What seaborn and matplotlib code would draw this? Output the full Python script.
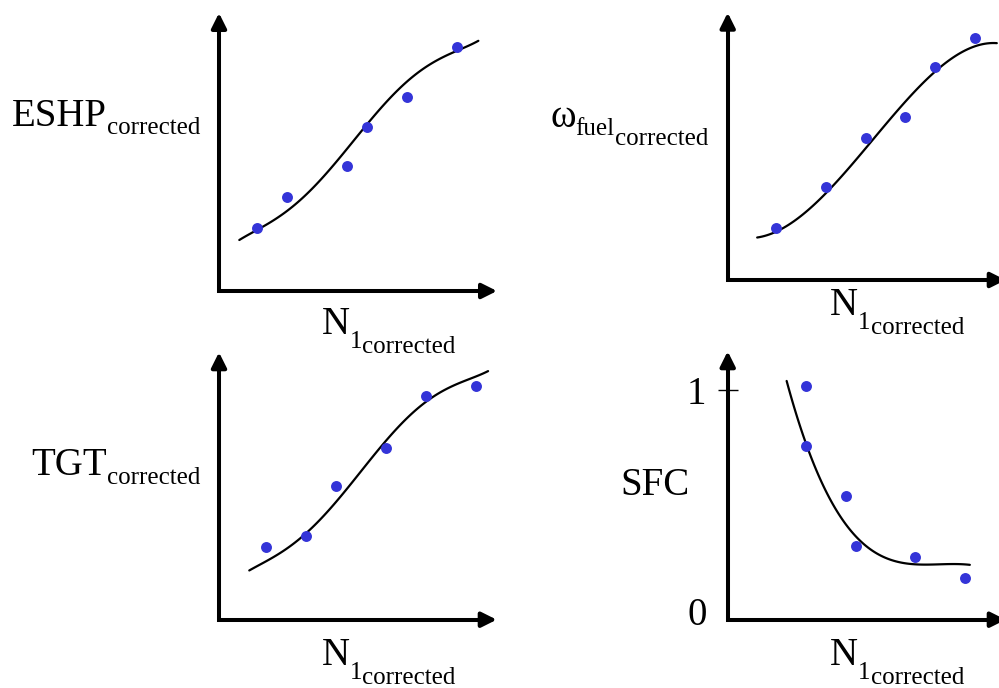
import numpy as np
import pandas as pd
import matplotlib
matplotlib.use("Agg")
import matplotlib.pyplot as plt
import matplotlib.transforms as mtransforms
import seaborn as sns

sns.set_theme(style="white")
plt.rcParams['font.family'] = ['Liberation Serif', 'DejaVu Serif']

# ---------------- data ----------------
# Panel 1: ESHP vs N1
eshp_pts_x = [1.36, 2.44, 4.59, 5.31, 6.75, 8.55]
eshp_pts_y = [2.26, 3.39, 4.50, 5.91, 6.99, 8.79]
eshp_fit_x = [0.73, 1.47, 2.44, 3.15, 3.87, 4.59, 5.31, 6.03, 6.75, 7.71, 8.55, 9.33]
eshp_fit_y = [1.83, 2.26, 2.89, 3.45, 4.23, 5.13, 5.97, 6.81, 7.53, 8.19, 8.67, 8.99]

# Panel 2: fuel flow vs N1
fuel_pts_x = [1.74, 3.54, 4.97, 6.39, 7.47, 8.91]
fuel_pts_y = [1.93, 3.49, 5.30, 6.11, 7.98, 9.04]
fuel_fit_x = [1.06, 1.76, 2.60, 3.56, 4.28, 5.00, 5.72, 6.44, 7.40, 8.60, 9.68]
fuel_fit_y = [1.50, 1.93, 2.50, 3.18, 3.86, 4.99, 5.99, 6.86, 7.73, 8.48, 8.92]

# Panel 3: TGT vs N1
tgt_pts_x = [1.71, 3.15, 4.23, 6.03, 7.46, 9.26]
tgt_pts_y = [2.71, 3.14, 5.01, 6.42, 8.38, 8.73]
tgt_fit_x = [1.09, 2.08, 3.15, 3.87, 4.59, 5.31, 6.03, 6.75, 7.71, 8.67, 9.69]
tgt_fit_y = [1.83, 2.46, 3.20, 3.95, 4.95, 5.82, 6.69, 7.51, 8.32, 8.88, 9.29]

# Panel 4: SFC vs N1
sfc_pts_x = [2.82, 2.82, 4.26, 4.62, 6.75, 8.55]
sfc_pts_y = [1.016, 0.755, 0.537, 0.322, 0.272, 0.182]
sfc_fit_x = [2.12, 2.36, 2.72, 3.20, 3.80, 4.52, 5.24, 6.19, 7.39, 8.71]
sfc_fit_y = [1.040, 0.939, 0.794, 0.649, 0.504, 0.373, 0.293, 0.254, 0.239, 0.239]

sfc_ticks = [0, 1]
sfc_ticklabels = ["0", "1"]

DOT = "#3434d8"

W, H = 999, 688
fig = plt.figure(figsize=(W / 100, H / 100), dpi=100)


def px_axes(x0, y0, w, h):
    return fig.add_axes([x0 / W, (H - y0) / H, w / W, h / H])


def arrows(ax, w, h):
    stop_x = 1 - 6.0 / w
    stop_y = 1 - 6.0 / h
    ax.plot([0, 0, stop_x], [stop_y, 0, 0], transform=ax.transAxes,
            clip_on=False, lw=2.9, color='black', solid_joinstyle='miter',
            solid_capstyle='butt', zorder=4)
    kw = dict(arrowstyle='-|>,head_length=0.5,head_width=0.25', lw=2.9,
              color='black', shrinkA=0, shrinkB=0, mutation_scale=18)
    ax.annotate('', xy=(1, 0), xytext=(1 - 10.0 / w, 0), xycoords='axes fraction',
                arrowprops=kw, annotation_clip=False)
    ax.annotate('', xy=(0, 1), xytext=(0, 1 - 10.0 / h), xycoords='axes fraction',
                arrowprops=kw, annotation_clip=False)


def style(ax, ylim=(0, 10)):
    ax.set_xlim(0, 10)
    ax.set_ylim(*ylim)
    for s in ax.spines.values():
        s.set_visible(False)
    ax.set_xticks([])
    ax.set_yticks([])
    ax.set_xlabel('')
    ax.set_ylabel('')
    ax.patch.set_alpha(0)


def draw(ax, fx, fy, px, py, order):
    sns.regplot(x=np.array(fx), y=np.array(fy), ax=ax, order=order, ci=None,
                scatter=False, truncate=True,
                line_kws=dict(color='black', lw=1.6, zorder=2))
    sns.scatterplot(x=px, y=py, ax=ax, color=DOT, s=62, linewidth=0, zorder=3)


panels = [
    (219, 291, 278, 278, eshp_fit_x, eshp_fit_y, eshp_pts_x, eshp_pts_y, (0, 10), 5),
    (727.7, 280, 278, 267.3, fuel_fit_x, fuel_fit_y, fuel_pts_x, fuel_pts_y, (0, 10), 4),
    (219, 619.7, 277.7, 267.4, tgt_fit_x, tgt_fit_y, tgt_pts_x, tgt_pts_y, (0, 10), 5),
    (727.7, 619.7, 278, 268.4, sfc_fit_x, sfc_fit_y, sfc_pts_x, sfc_pts_y, (0, 268.4 / 229.7), 4),
]

axes = []
for (x0, y0, w, h, fx, fy, px, py, yl, order) in panels:
    ax = px_axes(x0, y0, w, h)
    draw(ax, fx, fy, px, py, order)
    style(ax, yl)
    arrows(ax, w, h)
    axes.append(ax)

# SFC ticks
ax4 = axes[3]
ax4.set_yticks(sfc_ticks)
ax4.set_yticklabels(sfc_ticklabels, fontsize=28)
ax4.tick_params(axis='y', direction='inout', length=14.5, width=1.0,
                color='black', pad=8, left=True, labelcolor='black')
ax4.yaxis.get_major_ticks()[0].tick1line.set_visible(False)
lab0 = ax4.yaxis.get_majorticklabels()[0]
lab0.set_transform(lab0.get_transform() +
                   mtransforms.ScaledTranslation(0, 9 / 100, fig.dpi_scale_trans))

# ---------------- labels built from pieces ----------------
renderer = fig.canvas.get_renderer()
ident = mtransforms.IdentityTransform()


def piece_label(x_left, baseline, parts):
    x = x_left
    for txt, size, drop in parts:
        t = fig.text(x, H - (baseline + drop), txt, fontsize=size,
                     transform=ident, ha='left', va='baseline', color='black')
        bb = t.get_window_extent(renderer=renderer)
        x = bb.x1


MAIN, SUB = 28, 18
piece_label(11.7, 126, [("ESHP", MAIN, 0), ("corrected", SUB, 7.5)])
piece_label(550, 126.7, [("ω", MAIN, 0), ("fuel", SUB, 8.3), ("corrected", SUB, 18.3)])
piece_label(31.7, 475, [("TGT", MAIN, 0), ("corrected", SUB, 8.5)])
piece_label(620.7, 495, [("SFC", MAIN, 0)])

for (xl, bl) in [(321.7, 334.3), (830, 315), (321.7, 665), (830, 665)]:
    piece_label(xl, bl, [("N", MAIN, 0), ("1", SUB, 14), ("corrected", SUB, 19)])

fig.savefig("out.png", dpi=100)
